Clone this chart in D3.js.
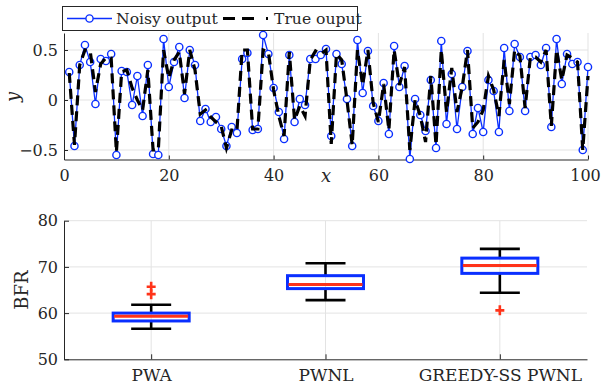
<!DOCTYPE html>
<html>
<head>
<meta charset="utf-8">
<script src="https://cdn.jsdelivr.net/npm/d3@7"></script>
<style>
  body { margin: 0; background: #fff; }
  svg text { font-family: 'DejaVu Serif', serif; fill: #262626; }
</style>
</head>
<body>
<div id="chart"></div>
<script>
// top panel: output of the system, sample k = 1..100
const noisyOutput = [
  0.28, -0.46, 0.35, 0.55, 0.38, -0.04, 0.41, 0.39, 0.46, -0.55,
  0.29, 0.28, -0.05, 0.24, -0.16, 0.35, -0.54, -0.55, 0.61, 0.13,
  0.38, 0.53, 0.02, 0.50, 0.35, -0.21, -0.09, -0.22, -0.17, -0.29,
  -0.46, -0.27, -0.33, 0.41, 0.47, -0.30, -0.29, 0.65, 0.46, 0.12,
  -0.12, -0.39, 0.45, -0.22, 0.01, -0.05, 0.41, 0.41, 0.45, 0.51,
  -0.36, 0.46, 0.36, 0.01, -0.46, 0.60, 0.07, 0.49, -0.06, -0.21,
  0.17, -0.34, 0.54, 0.13, 0.34, -0.59, 0.01, -0.15, -0.31, 0.20,
  -0.48, 0.59, -0.24, 0.26, -0.29, 0.13, 0.49, -0.34, -0.08, -0.32,
  0.20, 0.09, -0.32, 0.52, -0.11, 0.56, 0.43, -0.11, 0.43, 0.45,
  0.35, 0.52, -0.27, 0.61, 0.16, 0.46, 0.36, 0.38, -0.50, 0.33
];
const trueOutput = [
  0.27, -0.45, 0.35, 0.50, 0.49, 0.08, 0.36, 0.42, 0.42, -0.52,
  0.28, 0.30, 0.12, 0.00, -0.10, 0.30, -0.50, -0.50, 0.50, 0.22,
  0.40, 0.48, 0.06, 0.50, 0.30, -0.14, -0.10, -0.17, -0.22, -0.26,
  -0.48, -0.30, -0.31, 0.50, 0.50, -0.29, -0.29, 0.50, 0.48, 0.10,
  -0.16, -0.36, 0.48, -0.20, -0.06, -0.16, 0.40, 0.49, 0.46, 0.50,
  -0.44, 0.46, 0.40, 0.00, -0.45, 0.50, 0.15, 0.50, -0.03, -0.22,
  0.16, -0.30, 0.50, 0.15, 0.33, -0.50, 0.00, -0.16, -0.42, 0.24,
  -0.45, 0.50, -0.12, 0.32, -0.12, 0.13, 0.50, -0.28, -0.22, -0.10,
  0.24, 0.10, -0.16, 0.40, -0.04, 0.50, 0.44, -0.08, 0.43, 0.43,
  0.38, 0.50, -0.26, 0.50, 0.20, 0.45, 0.42, 0.38, -0.50, 0.24
];
const kTicks = [0, 20, 40, 60, 80, 100];
const yTicks = [-0.5, 0, 0.5];

// bottom panel: BFR boxplots
const methods = ['PWA', 'PWNL', 'GREEDY-SS PWNL'];
const whiskerLow = [56.6, 62.8, 64.4];
const q1 = [58.3, 65.3, 68.6];
const medians = [59.3, 66.2, 70.3];
const q3 = [60.0, 68.1, 71.9];
const whiskerHigh = [61.8, 70.8, 73.9];
const outliers = [[65.7, 64.1], [], [60.6]];
const bfrTicks = [50, 60, 70, 80];

const W = 601, H = 388;
const axisColor = '#262626', gridColor = '#e3e3e3';
const blue = '#0a2fff', red = '#ff3319';
const fontFamily = "'DejaVu Serif', serif";

const svg = d3.select('#chart').append('svg')
  .attr('width', W).attr('height', H);

// ---------- top panel ----------
const x = d3.scaleLinear().domain([0, 100]).range([64, 588]);
const y = d3.scaleLinear().domain([-0.595, 0.67]).range([159.5, 33]);

const topPanel = svg.append('g');

// grid
topPanel.append('g').selectAll('line').data(kTicks.slice(1)).join('line')
  .attr('x1', d => x(d)).attr('x2', d => x(d))
  .attr('y1', y.range()[1]).attr('y2', y.range()[0])
  .attr('stroke', gridColor);
topPanel.append('g').selectAll('line').data(yTicks).join('line')
  .attr('x1', x.range()[0]).attr('x2', x.range()[1])
  .attr('y1', d => y(d)).attr('y2', d => y(d))
  .attr('stroke', gridColor);

const xAxis = d3.axisBottom(x).tickValues(kTicks).tickSizeInner(-4).tickSizeOuter(0).tickPadding(10);
const yAxis = d3.axisLeft(y).tickValues(yTicks).tickSizeInner(-4).tickSizeOuter(0).tickPadding(6)
  .tickFormat(d => d === 0 ? '0' : d3.format('.1f')(d));

const gx = topPanel.append('g').attr('transform', 'translate(0,' + y.range()[0] + ')').call(xAxis);
topPanel.append('g').attr('transform', 'translate(' + x.range()[0] + ',0)').call(yAxis);
// last label sits at the right edge of the figure
gx.selectAll('.tick text').filter(d => d === 100).attr('dx', -3);

// noisy output: blue line + circles
const pts = noisyOutput.map((v, i) => ({ k: i + 1, v: v }));
topPanel.append('path')
  .datum(pts)
  .attr('fill', 'none')
  .attr('stroke', blue)
  .attr('stroke-width', 1.3)
  .attr('d', d3.line().x(d => x(d.k)).y(d => y(d.v)));
topPanel.append('g').selectAll('circle').data(pts).join('circle')
  .attr('cx', d => x(d.k)).attr('cy', d => y(d.v)).attr('r', 3.6)
  .attr('fill', '#fff').attr('stroke', blue).attr('stroke-width', 1.4);

// true output: thick dashed black
topPanel.append('path')
  .datum(trueOutput.map((v, i) => ({ k: i + 1, v: v })))
  .attr('fill', 'none')
  .attr('stroke', '#000')
  .attr('stroke-width', 3.2)
  .attr('stroke-dasharray', '10,6')
  .attr('d', d3.line().x(d => x(d.k)).y(d => y(d.v)));

// axis labels
topPanel.append('text').attr('x', 326).attr('y', 182)
  .attr('text-anchor', 'middle').attr('font-style', 'italic').attr('font-size', 18)
  .text('x');
topPanel.append('text').attr('transform', 'translate(19,97) rotate(-90)')
  .attr('text-anchor', 'middle').attr('font-style', 'italic').attr('font-size', 18)
  .text('y');

// legend
const legend = svg.append('g');
legend.append('rect').attr('x', 62.5).attr('y', 6.5).attr('width', 295).attr('height', 24)
  .attr('fill', '#fff').attr('stroke', axisColor).attr('stroke-width', 1);
legend.append('line').attr('x1', 67).attr('x2', 112).attr('y1', 18.5).attr('y2', 18.5)
  .attr('stroke', blue).attr('stroke-width', 1.3);
legend.append('circle').attr('cx', 89.5).attr('cy', 18.5).attr('r', 3.6)
  .attr('fill', '#fff').attr('stroke', blue).attr('stroke-width', 1.4);
legend.append('text').attr('x', 116).attr('y', 24).attr('font-size', 15.6).text('Noisy output');
legend.append('line').attr('x1', 223).attr('x2', 270).attr('y1', 18.5).attr('y2', 18.5)
  .attr('stroke', '#000').attr('stroke-width', 3.2).attr('stroke-dasharray', '12,7,12,12,2');
legend.append('text').attr('x', 274).attr('y', 24).attr('font-size', 15.6).text('True ouput');

// ---------- bottom panel ----------
const xb = d3.scaleLinear().domain([0.5, 3.5]).range([64, 587]);
const yb = d3.scaleLinear().domain([50, 80]).range([359.3, 220.7]);
const bottomPanel = svg.append('g');

bottomPanel.append('g').selectAll('line').data(methods).join('line')
  .attr('x1', (d, i) => xb(i + 1)).attr('x2', (d, i) => xb(i + 1))
  .attr('y1', yb.range()[1]).attr('y2', yb.range()[0])
  .attr('stroke', gridColor);
bottomPanel.append('g').selectAll('line').data(bfrTicks.slice(1)).join('line')
  .attr('x1', xb.range()[0]).attr('x2', xb.range()[1])
  .attr('y1', d => yb(d)).attr('y2', d => yb(d))
  .attr('stroke', gridColor);

const xbAxis = d3.axisBottom(xb).tickValues([1, 2, 3]).tickFormat((d, i) => methods[i])
  .tickSizeInner(-5).tickSizeOuter(0).tickPadding(10);
const ybAxis = d3.axisLeft(yb).tickValues(bfrTicks).tickSizeInner(-5).tickSizeOuter(0).tickPadding(6);
const gxb = bottomPanel.append('g').attr('transform', 'translate(0,' + yb.range()[0] + ')').call(xbAxis);
bottomPanel.append('g').attr('transform', 'translate(' + xb.range()[0] + ',0)').call(ybAxis);

bottomPanel.append('text').attr('transform', 'translate(28,290) rotate(-90)')
  .attr('text-anchor', 'middle').attr('font-size', 18).text('BFR');

const boxHalf = 38, capHalf = 20;
const boxes = bottomPanel.append('g').selectAll('g').data(methods).join('g');
// whiskers
boxes.append('line')
  .attr('x1', (d, i) => xb(i + 1)).attr('x2', (d, i) => xb(i + 1))
  .attr('y1', (d, i) => yb(q3[i])).attr('y2', (d, i) => yb(whiskerHigh[i]))
  .attr('stroke', '#000').attr('stroke-width', 2.6);
boxes.append('line')
  .attr('x1', (d, i) => xb(i + 1)).attr('x2', (d, i) => xb(i + 1))
  .attr('y1', (d, i) => yb(q1[i])).attr('y2', (d, i) => yb(whiskerLow[i]))
  .attr('stroke', '#000').attr('stroke-width', 2.6);
boxes.append('line')
  .attr('x1', (d, i) => xb(i + 1) - capHalf).attr('x2', (d, i) => xb(i + 1) + capHalf)
  .attr('y1', (d, i) => yb(whiskerHigh[i])).attr('y2', (d, i) => yb(whiskerHigh[i]))
  .attr('stroke', '#000').attr('stroke-width', 2.6);
boxes.append('line')
  .attr('x1', (d, i) => xb(i + 1) - capHalf).attr('x2', (d, i) => xb(i + 1) + capHalf)
  .attr('y1', (d, i) => yb(whiskerLow[i])).attr('y2', (d, i) => yb(whiskerLow[i]))
  .attr('stroke', '#000').attr('stroke-width', 2.6);
// box
boxes.append('rect')
  .attr('x', (d, i) => xb(i + 1) - boxHalf).attr('width', boxHalf * 2)
  .attr('y', (d, i) => yb(q3[i])).attr('height', (d, i) => yb(q1[i]) - yb(q3[i]))
  .attr('fill', 'none').attr('stroke', blue).attr('stroke-width', 3);
// median
boxes.append('line')
  .attr('x1', (d, i) => xb(i + 1) - boxHalf + 1).attr('x2', (d, i) => xb(i + 1) + boxHalf - 1)
  .attr('y1', (d, i) => yb(medians[i])).attr('y2', (d, i) => yb(medians[i]))
  .attr('stroke', red).attr('stroke-width', 3);
// outliers
const crossPath = 'M-4.5,0H4.5M0,-5V5';
outliers.forEach((vals, i) => {
  bottomPanel.append('g').selectAll('path').data(vals).join('path')
    .attr('transform', d => 'translate(' + xb(i + 1) + ',' + yb(d) + ')')
    .attr('d', crossPath)
    .attr('stroke', red).attr('stroke-width', 2.6).attr('fill', 'none');
});

// axis styling
svg.selectAll('.domain').attr('stroke', axisColor).attr('stroke-width', 1);
svg.selectAll('.tick line').attr('stroke', axisColor);
svg.selectAll('.tick text').attr('font-size', 16).attr('fill', axisColor)
  .style('font-family', fontFamily);
gxb.selectAll('.tick text').attr('font-size', 17);
</script>
</body>
</html>
